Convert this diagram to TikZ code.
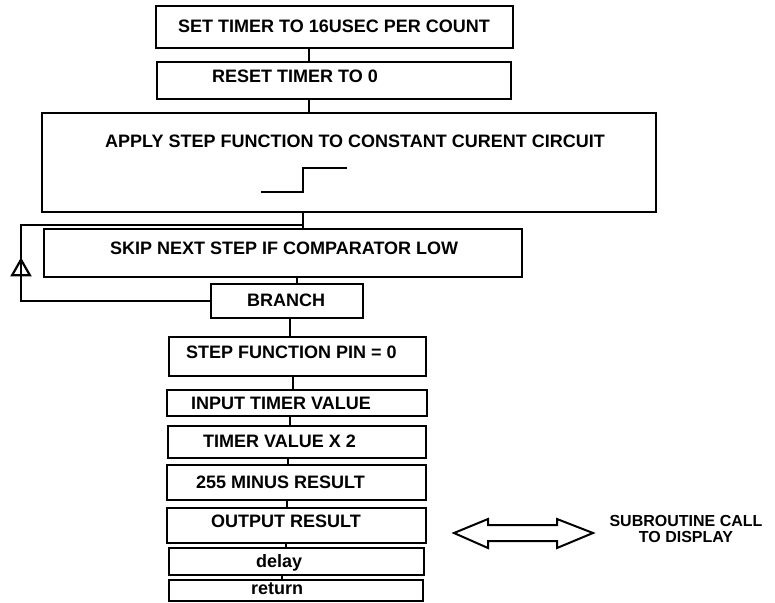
\documentclass[tikz,border=0pt]{standalone}
\usepackage{fontspec}
\setmainfont{Liberation Sans}
\usetikzlibrary{arrows.meta, decorations.markings}

\begin{document}
\begin{tikzpicture}[x=1pt, y=-1pt,
  blk/.style={draw, line width=2.6pt, inner sep=0pt},
  txt/.style={inner sep=0pt, anchor=base west, font=\fontsize{18}{20}\selectfont\bfseries},
  link/.style={line width=2.4pt}]
\useasboundingbox (0,0) rectangle (775,602);

% Flow boxes
\node[blk, minimum width=357pt, minimum height=42pt] (settimer) at (334.5,27) {};
\node[blk, minimum width=354pt, minimum height=37pt] (reset) at (334,80.5) {};
\node[blk, minimum width=614pt, minimum height=99pt] (apply) at (349,162.5) {};
\node[blk, minimum width=478pt, minimum height=48pt] (skip) at (283,253) {};
\node[blk, minimum width=152pt, minimum height=34pt] (branch) at (287,301) {};
\node[blk, minimum width=257pt, minimum height=39pt] (pinzero) at (297.5,356.5) {};
\node[blk, minimum width=260pt, minimum height=26pt] (input) at (297,403) {};
\node[blk, minimum width=258pt, minimum height=32pt] (double) at (297,442) {};
\node[blk, minimum width=259pt, minimum height=35pt] (minus) at (296.5,482.5) {};
\node[blk, minimum width=259pt, minimum height=35pt] (output) at (296.5,525.5) {};
\node[blk, minimum width=255pt, minimum height=27pt] (delay) at (296.5,561.5) {};
\node[blk, minimum width=254pt, minimum height=21pt] (ret) at (296,590.5) {};

% Box texts
\node[txt] (settimer-t) at (178,33) {SET TIMER TO 16USEC PER COUNT};
\node[txt] (reset-t) at (212,82) {RESET TIMER TO 0};
\node[txt] (apply-t) at (105,147) {APPLY STEP FUNCTION TO CONSTANT CURENT CIRCUIT};
\node[txt] (skip-t) at (110,254) {SKIP NEXT STEP IF COMPARATOR LOW};
\node[txt] (branch-t) at (247,306) {BRANCH};
\node[txt] (pinzero-t) at (186,358) {STEP FUNCTION PIN = 0};
\node[txt] (input-t) at (191,409) {INPUT TIMER VALUE};
\node[txt] (double-t) at (203,447) {TIMER VALUE X 2};
\node[txt] (minus-t) at (196,488) {255 MINUS RESULT};
\node[txt] (output-t) at (211,527) {OUTPUT RESULT};
\node[txt] (delay-t) at (256,567) {delay};
\node[txt] (ret-t) at (251,594) {return};

% Step waveform
\draw[line width=2.2pt] (261,192) -- (303,192) -- (303,168) -- (347,168);

% Connectors
\coordinate (join) at (303,225);
\draw[link] (309,0 |- settimer.south) -- (309,0 |- reset.north);
\draw[link] (309,0 |- reset.south) -- (309,0 |- apply.north);
\draw[link] (303,0 |- apply.south) -- (303,0 |- skip.north);
\draw[link] (297,0 |- skip.south) -- (297,0 |- branch.north);
\draw[link] (290,0 |- branch.south) -- (290,0 |- pinzero.north);
\draw[link] (293,0 |- pinzero.south) -- (293,0 |- input.north);
\draw[link] (290,0 |- input.south) -- (290,0 |- double.north);
\draw[link] (288,0 |- double.south) -- (288,0 |- minus.north);
\draw[link] (287,0 |- minus.south) -- (287,0 |- output.north);
\draw[link] (286,0 |- output.south) -- (286,0 |- delay.north);
\draw[link] (282,0 |- delay.south) -- (282,0 |- ret.north);

% Loop back from branch
\draw[link, decoration={markings, mark=at position 0.425 with {\arrow[line width=2.2pt]{Triangle[open, length=19pt, width=21pt]}}}, postaction={decorate}]
    (branch.west) -| (21,0 |- join) -- (join);

% Subroutine call
\draw[line width=2pt] (454,533) -- (488,519) -- (488,525) -- (557,525) -- (557,519) -- (593,533)
    -- (557,548) -- (557,541) -- (488,541) -- (488,548) -- cycle;
\node[align=center, inner sep=0pt, font=\fontsize{16}{15}\selectfont\bfseries] (subcall) at (686,528.5) {SUBROUTINE CALL\\[1pt]TO DISPLAY};

\end{tikzpicture}
\end{document}
